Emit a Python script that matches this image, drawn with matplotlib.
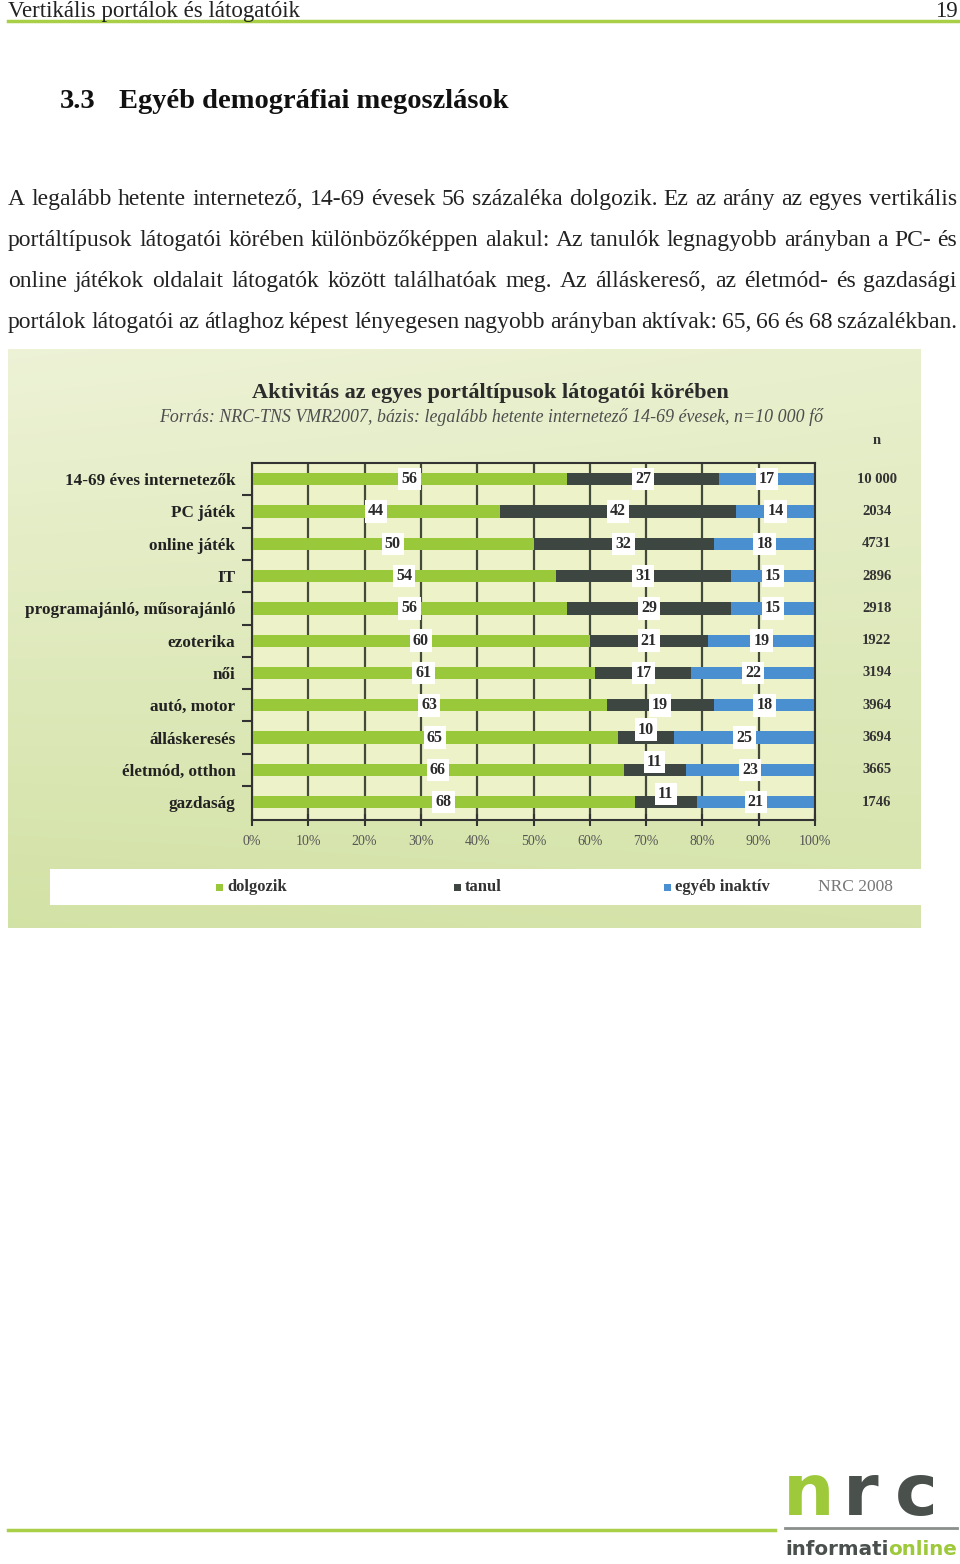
import matplotlib
matplotlib.use('Agg')
import matplotlib.pyplot as plt
from matplotlib.patches import Rectangle
import numpy as np

W, H = 960, 1564

# chart data
categories = ['14-69 éves internetezők', 'PC játék', 'online játék', 'IT',
              'programajánló, műsorajánló', 'ezoterika', 'női', 'autó, motor',
              'álláskeresés', 'életmód, otthon', 'gazdaság']
dolgozik = [56, 44, 50, 54, 56, 60, 61, 63, 65, 66, 68]
tanul = [27, 42, 32, 31, 29, 21, 17, 19, 10, 11, 11]
egyeb = [17, 14, 18, 15, 15, 19, 22, 18, 25, 23, 21]
n_values = ['10 000', '2034', '4731', '2896', '2918', '1922', '3194',
            '3964', '3694', '3665', '1746']
x_ticks = [0, 10, 20, 30, 40, 50, 60, 70, 80, 90, 100]
series_names = ['dolgozik', 'tanul', 'egyéb inaktív']

header_text = 'Vertikális portálok és látogatóik'
page_no = '19'
heading_no = '3.3'
heading_text = 'Egyéb demográfiai megoszlások'
paragraph = [
    'A legalább hetente internetező, 14-69 évesek 56 százaléka dolgozik. Ez az arány az egyes vertikális',
    'portáltípusok látogatói körében különbözőképpen alakul: Az tanulók legnagyobb arányban a PC- és',
    'online játékok oldalait látogatók között találhatóak meg. Az álláskereső, az életmód- és gazdasági',
    'portálok látogatói az átlaghoz képest lényegesen nagyobb arányban aktívak: 65, 66 és 68 százalékban.',
]
chart_title = 'Aktivitás az egyes portáltípusok látogatói körében'
chart_source = 'Forrás: NRC-TNS VMR2007, bázis: legalább hetente internetező 14-69 évesek, n=10 000 fő'

GREEN = '#99c93a'
DARK = '#3d4641'
BLUE = '#4a8fd0'
SERIF = 'Liberation Serif'


def fx(x):
    return x / W


def fy(y):
    return 1 - y / H


fig = plt.figure(figsize=(W / 100, H / 100), dpi=100)
fig.patch.set_facecolor('white')
renderer = fig.canvas.get_renderer()


def justify(line, x0, x1, y, **kw):
    words = line.split(' ')
    texts = [fig.text(0, fy(y), w, ha='left', va='baseline', **kw) for w in words]
    widths = [t.get_window_extent(renderer).width for t in texts]
    gap = (x1 - x0 - sum(widths)) / (len(words) - 1)
    x = x0
    for t, w in zip(texts, widths):
        t.set_x(fx(x))
        x += w + gap


# page header
fig.text(fx(8), fy(17), header_text, ha='left', va='baseline',
         family=SERIF, fontsize=16.5, color='#222')
fig.text(fx(958), fy(17), page_no, ha='right', va='baseline',
         family=SERIF, fontsize=16.5, color='#222')
fig.add_artist(plt.Line2D([fx(8), fx(958)], [fy(21), fy(21)], color='#a8cf45', lw=2.5))

# heading
fig.text(fx(60), fy(108), heading_no, ha='left', va='baseline',
         family=SERIF, fontsize=20.5, fontweight='bold', color='#111')
fig.text(fx(119), fy(108), heading_text, ha='left', va='baseline',
         family=SERIF, fontsize=20.5, fontweight='bold', color='#111')

# paragraph
for i, line in enumerate(paragraph):
    justify(line, 8, 957, 205 + i * 41, family=SERIF, fontsize=17, color='#222')

# chart background
bg = fig.add_axes([fx(8), fy(928), fx(913), 579 / H])
yy, xx = np.mgrid[0:1:200j, 0:1:300j]
top = np.array([0.93, 0.95, 0.84])
bottom = np.array([0.80, 0.87, 0.60])
t = np.clip(0.55 * yy + 0.25 * (1 - xx) * yy + 0.15 * xx, 0, 1)[..., None]
img = top * (1 - t) + bottom * t
bg.imshow(img, aspect='auto', extent=[0, 1, 0, 1], origin='upper')
bg.set_xlim(0, 1)
bg.set_ylim(0, 1)
bg.axis('off')

# chart title
fig.text(fx(490), fy(393), chart_title, ha='center', va='center',
         family=SERIF, fontsize=16, fontweight='bold', color='#2b2b2b')
fig.text(fx(491), fy(417), chart_source, ha='center', va='center',
         family=SERIF, fontsize=12.9, style='italic', color='#4d4d4d')

# main bars
ax = fig.add_axes([fx(252), fy(820), 563 / W, (820 - 463) / H])
ax.set_facecolor('#eef2c9')
ypos = np.arange(len(categories))
left2 = np.array(dolgozik)
left3 = left2 + np.array(tanul)
bh = 0.38
ax.barh(ypos, dolgozik, height=bh, color=GREEN, zorder=2)
ax.barh(ypos, tanul, left=left2, height=bh, color=DARK, zorder=2)
ax.barh(ypos, egyeb, left=left3, height=bh, color=BLUE, zorder=2)

box = dict(boxstyle='square,pad=0.2', fc='white', ec='none')
for i in range(len(categories)):
    for start, v in ((0, dolgozik[i]), (left2[i], tanul[i]), (left3[i], egyeb[i])):
        dy = -0.25 if v < 12 else 0
        ax.text(start + v / 2, i + dy, str(v), ha='center', va='center',
                family=SERIF, fontsize=11.5, fontweight='bold', color='#2b2b2b',
                bbox=box, zorder=4)
    ax.text(1.11, i, n_values[i], transform=ax.get_yaxis_transform(),
            ha='center', va='center', family=SERIF, fontsize=10.5,
            fontweight='bold', color='#333', clip_on=False)
ax.text(1.11, -1.2, 'n', transform=ax.get_yaxis_transform(), ha='center',
        va='center', family=SERIF, fontsize=10.5, fontweight='bold', color='#333')

ax.set_xlim(0, 100)
ax.set_ylim(len(categories) - 0.45, -0.5)
ax.set_xticks(x_ticks)
ax.set_xticklabels([f'{v}%' for v in x_ticks], family=SERIF, fontsize=10,
                   color='#555')
ax.set_yticks(ypos)
ax.set_yticklabels(categories, family=SERIF, fontsize=12.3, fontweight='bold', color='#222')
ax.set_yticks(ypos[:-1] + 0.5, minor=True)
ax.tick_params(axis='y', which='major', length=0, pad=12)
ax.tick_params(axis='y', which='minor', direction='out', length=7, width=1.5, color='#333')
ax.tick_params(axis='x', direction='inout', length=9, width=1.5, color='#333', pad=6)
ax.xaxis.grid(True, color='#424a3a', lw=1.6, zorder=1)
ax.set_axisbelow(True)
for sp in ax.spines.values():
    sp.set_color('#333')
    sp.set_linewidth(1.5)

# legend strip
fig.add_artist(Rectangle((fx(50), fy(905)), fx(871), 36 / H, transform=fig.transFigure,
                         fc='white', ec='none'))
for name, col, xl in zip(series_names, [GREEN, DARK, BLUE], [217, 455, 665]):
    fig.add_artist(Rectangle((fx(xl - 1), fy(891)), fx(7), 7 / H,
                             transform=fig.transFigure, fc=col, ec='none'))
    fig.text(fx(xl + 10), fy(887), name, ha='left', va='center', family=SERIF,
             fontsize=12, fontweight='bold', color='#333')
fig.text(fx(818), fy(887), 'NRC 2008', ha='left', va='center', family=SERIF,
         fontsize=12.5, color='#777')

# footer with logo
fig.add_artist(plt.Line2D([fx(8), fx(775)], [fy(1530), fy(1530)], color='#a8cf45', lw=2.5))
fig.add_artist(plt.Line2D([fx(785), fx(957)], [fy(1528), fy(1528)], color='#8a8f8c', lw=2))
fig.text(fx(783), fy(1515), 'n', ha='left', va='baseline', family='DejaVu Sans',
         fontsize=52, fontweight='bold', color='#9dc93b')
fig.text(fx(843), fy(1515), 'r', ha='left', va='baseline', family='DejaVu Sans',
         fontsize=52, fontweight='bold', color='#4a514d')
fig.text(fx(895), fy(1515), 'c', ha='left', va='baseline', family='DejaVu Sans',
         fontsize=52, fontweight='bold', color='#4a514d')
t1 = fig.text(fx(785), fy(1555), 'informati', ha='left', va='baseline',
              family='DejaVu Sans', fontsize=14.3, fontweight='bold', color='#4a514d')
w1 = t1.get_window_extent(renderer).width
fig.text(fx(785 + w1), fy(1555), 'online', ha='left', va='baseline',
         family='DejaVu Sans', fontsize=14.3, fontweight='bold', color='#9dc93b')

fig.savefig('out.png', dpi=100, facecolor='white')
